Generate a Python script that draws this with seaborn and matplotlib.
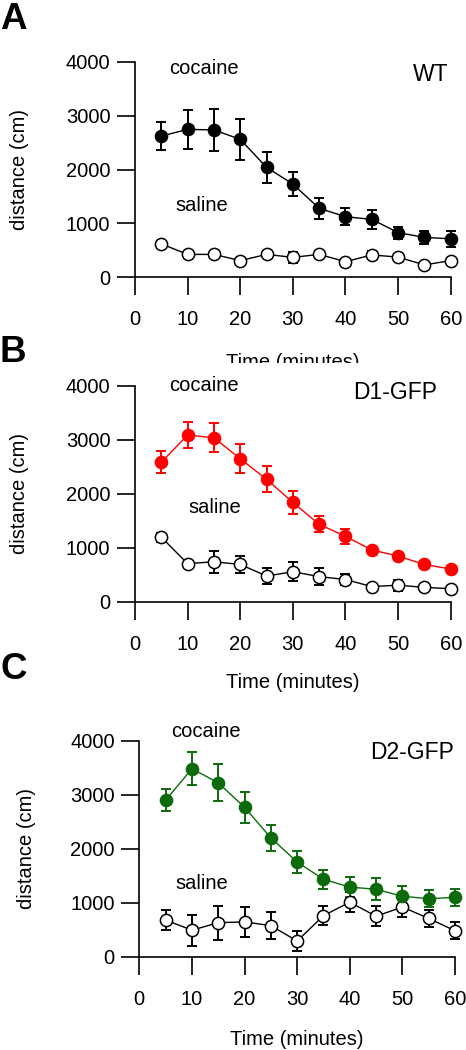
"""
Locomotor activity after cocaine vs saline in WT, D1-GFP and D2-GFP mice.
"""

import matplotlib
matplotlib.use('Agg')
import matplotlib.pyplot as plt
import seaborn as sns
import pandas as pd
from matplotlib.patches import Rectangle

# ---- data ----
time_min = [5, 10, 15, 20, 25, 30, 35, 40, 45, 50, 55, 60]

wt_cocaine = [2620, 2745, 2735, 2560, 2040, 1730, 1280, 1125, 1075, 830, 740, 715]
wt_cocaine_sem = [265, 360, 395, 375, 290, 225, 200, 155, 175, 110, 115, 150]
wt_saline = [620, 425, 425, 310, 425, 370, 425, 290, 415, 375, 230, 310]
wt_saline_sem = [20, 20, 20, 30, 70, 100, 60, 30, 80, 60, 30, 40]

d1_cocaine = [2585, 3090, 3040, 2650, 2270, 1840, 1435, 1210, 960, 845, 690, 605]
d1_cocaine_sem = [200, 245, 270, 270, 245, 210, 150, 135, 40, 40, 30, 30]
d1_saline = [1195, 705, 740, 690, 475, 555, 465, 410, 280, 305, 265, 240]
d1_saline_sem = [85, 20, 205, 155, 155, 175, 155, 105, 30, 100, 50, 30]

d2_cocaine = [2900, 3485, 3225, 2770, 2205, 1755, 1435, 1290, 1250, 1120, 1075, 1100]
d2_cocaine_sem = [205, 310, 340, 285, 245, 200, 175, 185, 200, 185, 160, 155]
d2_saline = [680, 490, 630, 645, 575, 290, 760, 1010, 750, 920, 710, 480]
d2_saline_sem = [185, 285, 315, 280, 245, 185, 175, 180, 190, 180, 155, 155]

x_ticks = [0, 10, 20, 30, 40, 50, 60]
y_ticks = [0, 1000, 2000, 3000, 4000]

sns.set_style('ticks')
plt.rcParams['font.family'] = ['Liberation Sans', 'DejaVu Sans']
plt.rcParams['text.color'] = 'black'
plt.rcParams['axes.labelcolor'] = 'black'
plt.rcParams['xtick.color'] = 'black'
plt.rcParams['ytick.color'] = 'black'


def draw_panel(ax, coc, coc_err, sal, sal_err, color, group, pos, xlab_y, ylab_x):
    """Dibuja un panel: cocaina (relleno) y salina (vacio) con barras de error."""
    df = pd.DataFrame({'t': time_min, 'coc': coc, 'coc_err': coc_err,
                       'sal': sal, 'sal_err': sal_err})

    # barras de error
    ax.errorbar(df['t'], df['sal'], yerr=df['sal_err'], fmt='none', ecolor='black',
                elinewidth=1.4, capsize=3.5, capthick=1.4, clip_on=False, zorder=2)
    ax.errorbar(df['t'], df['coc'], yerr=df['coc_err'], fmt='none', ecolor=color,
                elinewidth=1.4, capsize=3.5, capthick=1.4, clip_on=False, zorder=2)

    # lineas + marcadores
    sns.lineplot(data=df, x='t', y='sal', ax=ax, color='black', linewidth=1.0,
                 marker='o', markersize=8.8, markerfacecolor='white',
                 markeredgecolor='black', markeredgewidth=1.1, clip_on=False, zorder=3)
    sns.lineplot(data=df, x='t', y='coc', ax=ax, color=color, linewidth=1.0,
                 marker='o', markersize=8.8, markerfacecolor=color,
                 markeredgecolor=color, markeredgewidth=1.0, clip_on=False, zorder=4)

    ax.set_xlim(0, 60)
    ax.set_ylim(0, 4000)
    ax.set_xticks(x_ticks)
    ax.set_yticks(y_ticks)
    ax.tick_params(axis='both', length=12.7, width=1.2, labelsize=14.5,
                   color='black', labelcolor='black')
    ax.tick_params(axis='y', pad=5)
    ax.tick_params(axis='x', pad=11)
    for side in ['left', 'bottom']:
        ax.spines[side].set_linewidth(1.2)
        ax.spines[side].set_color('black')
    sns.despine(ax=ax)

    ax.set_xlabel('Time (minutes)', fontsize=14.5, color='black')
    ax.set_ylabel('distance (cm)', fontsize=14.5, color='black')
    ax.xaxis.set_label_coords(0.5, xlab_y)
    ax.yaxis.set_label_coords(ylab_x, 0.5)

    ax.text(pos['coc'][0], pos['coc'][1], 'cocaine', fontsize=14.5, ha='center', va='center')
    ax.text(pos['sal'][0], pos['sal'][1], 'saline', fontsize=14.5, ha='center', va='center')
    ax.text(pos['grp'][0], pos['grp'][1], group, fontsize=16.5, ha='center', va='center')


fig = plt.figure(figsize=(4.66, 10.5), dpi=100)
ax_a = fig.add_axes([0.2897, 0.7359, 0.6775, 0.2053])
ax_b = fig.add_axes([0.2897, 0.4270, 0.6775, 0.2054])
ax_c = fig.add_axes([0.2989, 0.0889, 0.6775, 0.2054])

draw_panel(ax_a, wt_cocaine, wt_cocaine_sem, wt_saline, wt_saline_sem, 'black', 'WT',
           {'coc': (13.1, 3880), 'sal': (12.6, 1340), 'grp': (56.2, 3770)},
           -0.35, -0.335)
draw_panel(ax_b, d1_cocaine, d1_cocaine_sem, d1_saline, d1_saline_sem, '#ff0000', 'D1-GFP',
           {'coc': (13.1, 4000), 'sal': (15.1, 1740), 'grp': (49.4, 3870)},
           -0.33, -0.335)
draw_panel(ax_c, d2_cocaine, d2_cocaine_sem, d2_saline, d2_saline_sem, '#0b6b0b', 'D2-GFP',
           {'coc': (12.6, 4185), 'sal': (11.9, 1350), 'grp': (51.9, 3780)},
           -0.338, -0.327)

# la etiqueta del panel A queda recortada por el panel B
fig.patches.append(Rectangle((0.44, 1 - 376 / 1050), 0.36, 13 / 1050,
                             transform=fig.transFigure, facecolor='white',
                             edgecolor='none', zorder=10))

# letras de los paneles
for letter, base in [('A', 29), ('B', 362), ('C', 679)]:
    fig.text(0.0, 1 - base / 1050, letter, fontsize=26.5, fontweight='bold',
             ha='left', va='baseline', color='black')

fig.savefig('out.png', dpi=100)
